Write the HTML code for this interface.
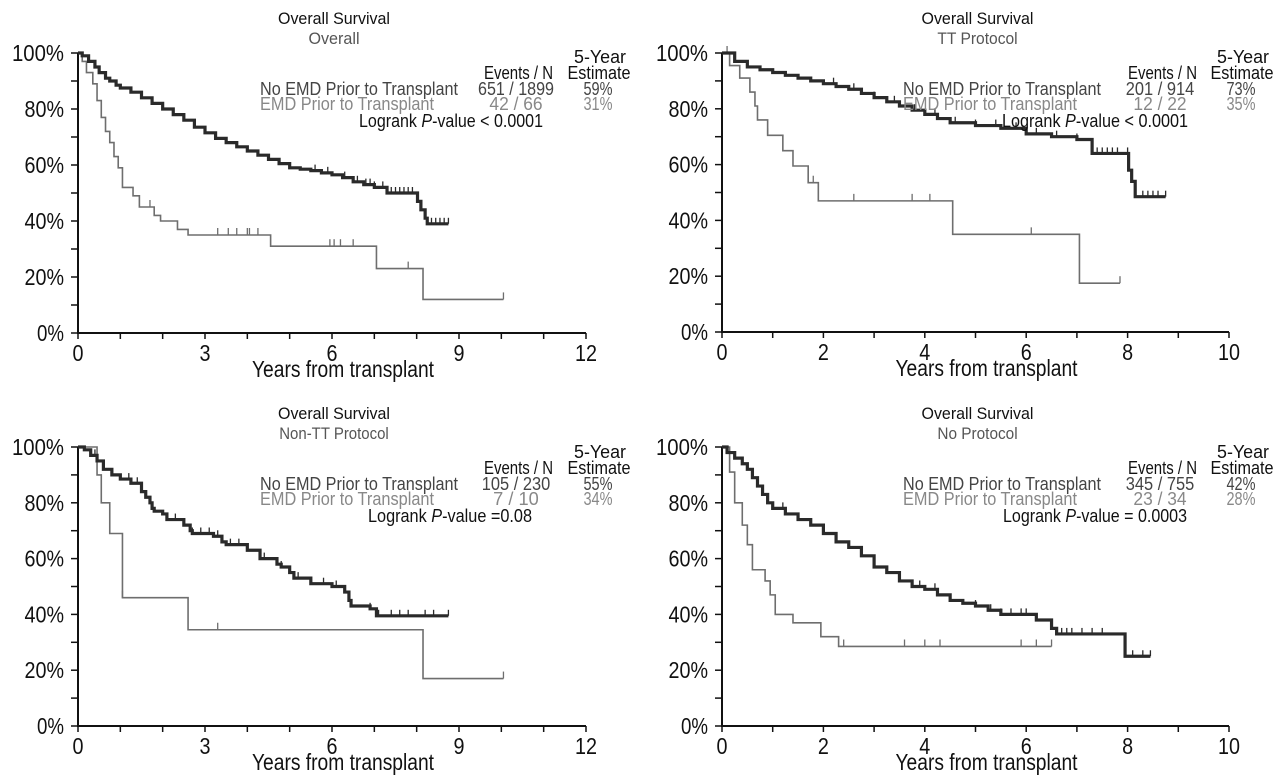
<!DOCTYPE html>
<html><head><meta charset="utf-8"><style>
html,body{margin:0;padding:0;background:#fff;}
svg{display:block;font-family:"Liberation Sans Narrow","Liberation Sans",sans-serif;}
</style></head><body>
<svg id="fig" width="1280" height="781" viewBox="0 0 1280 781"></svg>
<script>
// ===== data =====
const overallNoEmd = [[0,100],[0.1,99],[0.25,97],[0.4,95],[0.5,93],[0.65,91],[0.75,90],[0.9,88.5],[1,87.5],[1.25,86],[1.5,84],[1.75,82],[2,80],[2.25,78],[2.5,76],[2.75,73.5],[3,71.5],[3.25,69.5],[3.5,68],[3.75,66.5],[4,65],[4.25,63.5],[4.5,62],[4.75,60.5],[5,59],[5.25,58.5],[5.5,58],[5.75,57.2],[6,56.5],[6.25,55.5],[6.5,54],[6.75,53],[7,52],[7.3,50],[8.02,47],[8.1,44],[8.2,41],[8.25,39]];
const overallNoEmdEnd = 8.75;
const overallNoEmdCens = [5.6,5.9,6.3,6.6,6.8,6.9,7.0,7.2,7.4,7.5,7.6,7.7,7.8,7.9,8.35,8.45,8.55,8.65,8.75];
const overallEmd = [[0,100],[0.1,97],[0.2,93],[0.35,89],[0.45,83],[0.55,77],[0.65,72],[0.75,68],[0.85,63],[0.95,59],[1.05,52],[1.3,49],[1.45,45],[1.8,42],[1.95,40],[2.35,37],[2.6,35],[4.55,31],[7.05,23],[8.15,12]];
const overallEmdEnd = 10.05;
const overallEmdCens = [0.35,1.7,3.3,3.55,3.75,4.0,4.05,4.25,5.95,6.05,6.2,6.5,7.8,10.05];

const ttNoEmd = [[0,100],[0.25,97],[0.5,95],[0.75,94],[1,93],[1.25,92],[1.5,91],[1.75,90],[2,89],[2.25,88],[2.5,87],[2.75,85.5],[3,84],[3.25,82.5],[3.5,81],[3.75,79.5],[4,78],[4.25,76.5],[4.5,75],[5,74],[5.5,73],[6,71],[6.5,70],[7,69],[7.3,64],[8.02,58],[8.08,54],[8.15,48.5]];
const ttNoEmdEnd = 8.75;
const ttNoEmdCens = [2.2,2.6,3.0,3.4,3.8,4.2,4.6,5.0,5.4,5.8,6.2,6.6,7.0,7.4,7.5,7.6,7.7,7.8,8.0,8.3,8.4,8.5,8.6,8.75];
const ttEmd = [[0,100],[0.15,95.5],[0.35,91],[0.55,86],[0.65,81],[0.7,76],[0.9,70.5],[1.2,65],[1.4,59.5],[1.7,53.5],[1.9,47],[4.55,35],[7.05,17.5]];
const ttEmdEnd = 7.85;
const ttEmdCens = [0.1,0.9,1.8,2.6,3.75,4.1,6.1,7.85];

const nonTtNoEmd = [[0,100],[0.15,99],[0.3,97],[0.45,95],[0.6,92],[0.8,90],[1,88.5],[1.25,87],[1.5,84],[1.6,82],[1.7,80],[1.75,78],[1.8,77],[2,76],[2.1,74],[2.5,72],[2.65,70],[2.7,69],[3.2,68],[3.4,66],[3.5,65],[4,63],[4.3,60],[4.7,58],[4.8,57],[5,55],[5.1,53],[5.5,51],[6,50],[6.3,48],[6.4,45],[6.45,43],[6.9,42],[7.05,39.5]];
const nonTtNoEmdEnd = 8.75;
const nonTtNoEmdCens = [0.4,1.2,1.4,2.3,2.7,2.9,3.1,3.3,3.6,3.8,4.0,4.4,4.8,5.2,5.5,5.8,6.1,6.9,7.1,7.4,7.6,7.8,8.2,8.4,8.75];
const nonTtEmd = [[0,100],[0.45,90],[0.55,80],[0.75,69],[1.05,46],[2.6,34.5],[8.15,17]];
const nonTtEmdEnd = 10.05;
const nonTtEmdCens = [0.75,1.05,3.3,10.05];

const noProtNoEmd = [[0,100],[0.1,98],[0.25,96],[0.4,94],[0.5,92],[0.6,89],[0.7,86],[0.8,83],[0.9,80],[1,78],[1.25,76],[1.5,74],[1.75,72],[2,69],[2.25,66],[2.5,64],[2.75,61],[3,57],[3.25,55],[3.5,52],[3.75,50],[4,49],[4.25,47],[4.5,45],[4.75,44],[5,43],[5.25,41.5],[5.5,40],[6,40],[6.2,38],[6.5,35],[6.6,33],[7.95,25]];
const noProtNoEmdEnd = 8.45;
const noProtNoEmdCens = [0.4,1.2,1.5,2.0,2.5,3.0,3.5,3.9,4.2,4.5,5.0,5.3,5.5,5.7,5.9,6.0,6.7,6.8,6.9,7.1,7.3,7.5,8.1,8.3,8.45];
const noProtEmd = [[0,100],[0.15,91],[0.25,80],[0.4,72],[0.5,65],[0.6,56],[0.85,52],[0.95,47],[1.05,40],[1.4,37],[1.95,32],[2.3,28.5]];
const noProtEmdEnd = 6.5;
const noProtEmdCens = [1.95,2.4,3.6,4.0,4.3,5.9,6.2,6.5];

// ===== panels =====
const panels = [
 {name:'overall', sub:'Overall', oy:0, x0:78, x1:586, y100:53, y0:333, xmax:12, xLabels:[0,3,6,9,12],
  a:overallNoEmd, aEnd:overallNoEmdEnd, aC:overallNoEmdCens, b:overallEmd, bEnd:overallEmdEnd, bC:overallEmdCens,
  n1:'651 / 1899', e1:'59%', n2:'42 / 66', e2:'31%', p:'< 0.0001', lx:260, numx:516, estx:598, px:359, pw:184},
 {name:'tt', sub:'TT Protocol', oy:0, x0:722, x1:1229, y100:53, y0:332, xmax:10, xLabels:[0,2,4,6,8,10],
  a:ttNoEmd, aEnd:ttNoEmdEnd, aC:ttNoEmdCens, b:ttEmd, bEnd:ttEmdEnd, bC:ttEmdCens,
  n1:'201 / 914', e1:'73%', n2:'12 / 22', e2:'35%', p:'< 0.0001', lx:903, numx:1160, estx:1241, px:1002, pw:186},
 {name:'non-tt', sub:'Non-TT Protocol', oy:395, x0:78, x1:586, y100:52, y0:331, xmax:12, xLabels:[0,3,6,9,12],
  a:nonTtNoEmd, aEnd:nonTtNoEmdEnd, aC:nonTtNoEmdCens, b:nonTtEmd, bEnd:nonTtEmdEnd, bC:nonTtEmdCens,
  n1:'105 / 230', e1:'55%', n2:'7 / 10', e2:'34%', p:'=0.08', lx:260, numx:516, estx:598, px:368, pw:164},
 {name:'no-protocol', sub:'No Protocol', oy:395, x0:722, x1:1229, y100:52, y0:331, xmax:10, xLabels:[0,2,4,6,8,10],
  a:noProtNoEmd, aEnd:noProtNoEmdEnd, aC:noProtNoEmdCens, b:noProtEmd, bEnd:noProtEmdEnd, bC:noProtEmdCens,
  n1:'345 / 755', e1:'42%', n2:'23 / 34', e2:'28%', p:'= 0.0003', lx:903, numx:1160, estx:1241, px:1003, pw:184}
];

const NS='http://www.w3.org/2000/svg';
const svg=document.getElementById('fig');
function mk(tag, attrs, parent, txt){
  const e=document.createElementNS(NS,tag);
  for(const k in attrs) e.setAttribute(k,attrs[k]);
  if(txt!==undefined) e.textContent=txt;
  parent.appendChild(e); return e;
}
function tx(parent,x,y,anchor,size,fill,str,len){
  const a={x:x,y:y,'text-anchor':anchor,'font-size':size,fill:fill};
  if(len){a.textLength=len;a.lengthAdjust='spacingAndGlyphs';}
  return mk('text',a,parent,str);
}
panels.forEach(P=>{
  const g=mk('g',{transform:'translate(0,'+P.oy+')'},svg);
  
  
  const sx=v=>P.x0+(P.x1-P.x0)*v/P.xmax;
  const sy=v=>P.y0-(P.y0-P.y100)*v/100;
  const cx=(P.x0+P.x1)/2+2;
  let t=tx(g,cx,24,'middle',17,'#111','Overall Survival',112);
   
  t=tx(g,cx,44,'middle',17,'#555',P.sub,P.sub.length*7.3);
   
  const ax=mk('path',{d:'M'+P.x0+' '+P.y100+' V'+P.y0+' H'+P.x1,stroke:'#111','stroke-width':2,fill:'none'},g);
   
  for(let v=0;v<=100;v+=10){
    mk('line',{x1:P.x0-7,x2:P.x0,y1:sy(v),y2:sy(v),stroke:'#111','stroke-width':1.5},g);
    if(v%20===0){
      const s=v+'%';
      const yl=tx(g,P.x0-14,sy(v)+8,'end',23,'#111',s,s.length*12.5+2);
       
    }
  }
  for(let v=0;v<=P.xmax;v++){
    mk('line',{x1:sx(v),x2:sx(v),y1:P.y0,y2:P.y0+6,stroke:'#111','stroke-width':1.5},g);
  }
  P.xLabels.forEach(v=>{
    const s=String(v);
    const xl=tx(g,sx(v),P.y0+28,'middle',23,'#111',s,s.length*11);
     
  });
  t=tx(g,(P.x0+P.x1)/2+11,P.y0+44,'middle',23,'#111','Years from transplant',182);
   
  function curve(pts,end,cens,color,w,nm,ch){
    let d='M'+sx(pts[0][0])+' '+sy(pts[0][1]);
    for(let i=1;i<pts.length;i++){ d+=' H'+sx(pts[i][0])+' V'+sy(pts[i][1]); }
    d+=' H'+sx(end);
    const p=mk('path',{d:d,stroke:color,'stroke-width':w,fill:'none'},g);
     
    cens.forEach(c=>{
      let s=pts[0][1]; pts.forEach(q=>{ if(q[0]<=c) s=q[1]; });
      const l=mk('line',{x1:sx(c),x2:sx(c),y1:sy(s),y2:sy(s)-ch,stroke:color,'stroke-width':1.3},g);
       
    });
  }
  curve(P.b,P.bEnd,P.bC,'#6e6e6e',1.6,'emd-curve',7);
  curve(P.a,P.aEnd,P.aC,'#2a2a2a',3.2,'no-emd-curve',6);
  const lg=mk('g',{},g);
   
  tx(lg,P.estx+2,63,'middle',18,'#111','5-Year',52);
  tx(lg,P.numx+37,79,'end',18,'#111','Events / N',69);
  tx(lg,P.estx+1,79,'middle',18,'#111','Estimate',63);
  tx(lg,P.lx,95,'start',18,'#444','No EMD Prior to Transplant',198);
  tx(lg,P.numx,95,'middle',18,'#444',P.n1,P.n1.length*7.6);
  tx(lg,P.estx,95,'middle',18,'#444',P.e1,29);
  tx(lg,P.lx,110,'start',18,'#888','EMD Prior to Transplant',174);
  tx(lg,P.numx,110,'middle',18,'#888',P.n2,P.n2.length*7.6);
  tx(lg,P.estx,110,'middle',18,'#888',P.e2,29);
  const lr=mk('text',{x:P.px,y:127,fill:'#111','font-size':18,textLength:P.pw,lengthAdjust:'spacingAndGlyphs'},lg);
  mk('tspan',{},lr,'Logrank ');
  mk('tspan',{'font-style':'italic'},lr,'P');
  mk('tspan',{},lr,'-value '+P.p);
});
</script>
</body></html>
